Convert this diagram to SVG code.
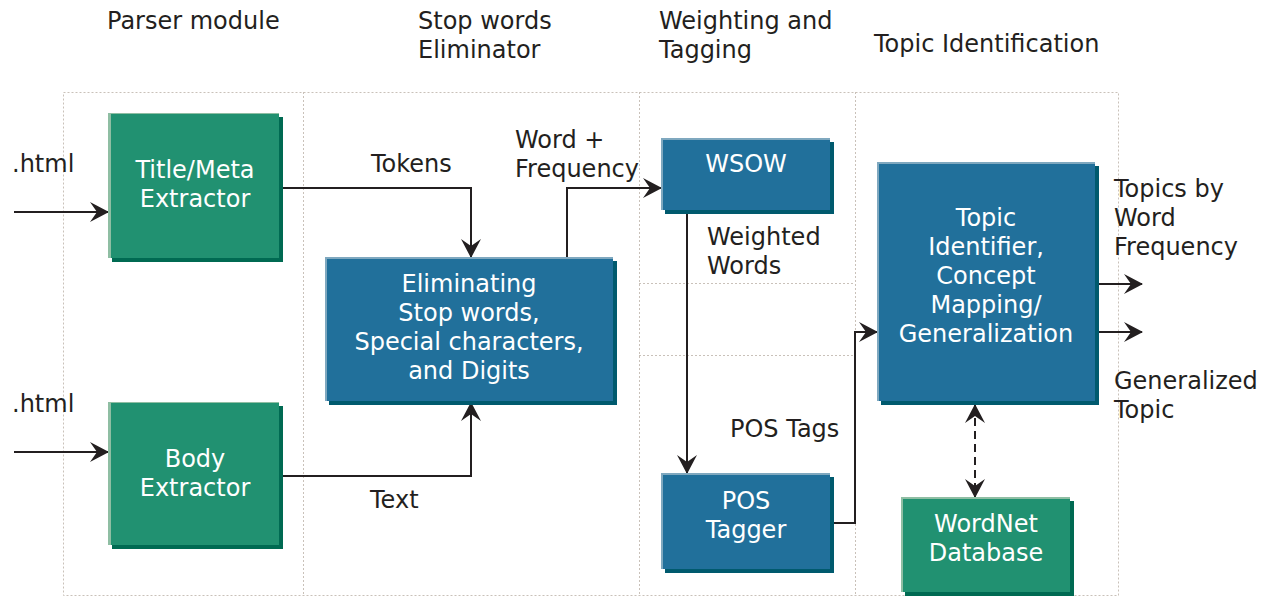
<svg xmlns="http://www.w3.org/2000/svg" width="1269" height="597" viewBox="0 0 1269 597">
<style>
.frame{fill:none;stroke:#c9c1b9;stroke-width:1;stroke-dasharray:2,2}
.lbl{font-family:"DejaVu Sans",Verdana,sans-serif;font-size:24px;fill:#231f20}
.nt{font-family:"DejaVu Sans",Verdana,sans-serif;font-size:24px;fill:#ffffff;text-anchor:middle}
.gs{fill:#006a52}.gh{fill:#8fbea3}.gm{fill:#219171}
.bs{fill:#005a6e}.bh{fill:#7fa8bf}.bm{fill:#21709b}
.con{fill:none;stroke:#231f20;stroke-width:2}
</style>
<defs>
<marker id="ah" markerUnits="userSpaceOnUse" markerWidth="20" markerHeight="22" refX="18" refY="11" orient="auto-start-reverse" viewBox="0 0 20 22">
<path d="M0,1 L19,11 L0,21 L7,11 z" fill="#231f20"/>
</marker>
</defs>
<g id="frames">
<rect class="frame" x="63.5" y="92.5" width="1055" height="503"/>
<line class="frame" x1="303.5" y1="92" x2="303.5" y2="596"/>
<line class="frame" x1="639.5" y1="92" x2="639.5" y2="596"/>
<line class="frame" x1="855.5" y1="92" x2="855.5" y2="596"/>
<line class="frame" x1="639" y1="283.5" x2="855" y2="283.5"/>
<line class="frame" x1="639" y1="355.5" x2="855" y2="355.5"/>
</g>
<g id="headers">
<text class="lbl" x="107" y="29">Parser module</text>
<text class="lbl" x="418" y="29">Stop words</text>
<text class="lbl" x="418" y="58">Eliminator</text>
<text class="lbl" x="659" y="29">Weighting and</text>
<text class="lbl" x="659" y="58">Tagging</text>
<text class="lbl" x="874" y="52">Topic Identification</text>
</g>
<g id="connectors">
<line class="con" x1="14" y1="212" x2="108" y2="212" marker-end="url(#ah)"/>
<line class="con" x1="14" y1="452" x2="108" y2="452" marker-end="url(#ah)"/>
<polyline class="con" points="279,188 471,188 471,257" marker-end="url(#ah)"/>
<polyline class="con" points="279,476 471,476 471,403" marker-end="url(#ah)"/>
<polyline class="con" points="567,257 567,188 661,188" marker-end="url(#ah)"/>
<line class="con" x1="687" y1="212" x2="687" y2="473" marker-end="url(#ah)"/>
<polyline class="con" points="831,523 855,523 855,332 877,332" marker-end="url(#ah)"/>
<line class="con" x1="1095" y1="284" x2="1142" y2="284" marker-end="url(#ah)"/>
<line class="con" x1="1095" y1="332" x2="1142" y2="332" marker-end="url(#ah)"/>
<line class="con" x1="975" y1="405" x2="975" y2="497" stroke-dasharray="8,5" marker-start="url(#ah)" marker-end="url(#ah)"/>
</g>
<g id="labels">
<text class="lbl" x="12" y="172">.html</text>
<text class="lbl" x="12" y="412">.html</text>
<text class="lbl" x="371" y="172">Tokens</text>
<text class="lbl" x="370" y="508">Text</text>
<text class="lbl" x="515" y="148">Word +</text>
<text class="lbl" x="515" y="177">Frequency</text>
<text class="lbl" x="707" y="245">Weighted</text>
<text class="lbl" x="707" y="274">Words</text>
<text class="lbl" x="730" y="437">POS Tags</text>
<text class="lbl" x="1114" y="197">Topics by</text>
<text class="lbl" x="1114" y="226">Word</text>
<text class="lbl" x="1114" y="255">Frequency</text>
<text class="lbl" x="1114" y="389">Generalized</text>
<text class="lbl" x="1114" y="418">Topic</text>
</g>
<g id="title-meta">
<rect class="gs" x="112" y="117" width="171" height="145"/>
<rect class="gh" x="108" y="113" width="171" height="145"/>
<rect class="gm" x="111" y="114" width="168" height="144"/>
<text class="nt" x="195" y="178">Title/Meta</text>
<text class="nt" x="195" y="207">Extractor</text>
</g>
<g id="body-extractor">
<rect class="gs" x="112" y="406" width="171" height="143"/>
<rect class="gh" x="108" y="402" width="171" height="143"/>
<rect class="gm" x="111" y="403" width="168" height="142"/>
<text class="nt" x="195" y="467">Body</text>
<text class="nt" x="195" y="496">Extractor</text>
</g>
<g id="eliminating">
<rect class="bs" x="329" y="261" width="288" height="144"/>
<rect class="bh" x="325" y="257" width="288" height="144"/>
<rect class="bm" x="327" y="259" width="286" height="142"/>
<text class="nt" x="469" y="292">Eliminating</text>
<text class="nt" x="469" y="321">Stop words,</text>
<text class="nt" x="469" y="350">Special characters,</text>
<text class="nt" x="469" y="379">and Digits</text>
</g>
<g id="wsow">
<rect class="bs" x="665" y="142" width="169" height="72"/>
<rect class="bh" x="661" y="138" width="169" height="72"/>
<rect class="bm" x="663" y="140" width="167" height="70"/>
<text class="nt" x="746" y="172">WSOW</text>
</g>
<g id="pos-tagger">
<rect class="bs" x="665" y="477" width="169" height="96"/>
<rect class="bh" x="661" y="473" width="169" height="96"/>
<rect class="bm" x="663" y="475" width="167" height="94"/>
<text class="nt" x="746" y="509">POS</text>
<text class="nt" x="746" y="538">Tagger</text>
</g>
<g id="topic-identifier">
<rect class="bs" x="881" y="166" width="218" height="239"/>
<rect class="bh" x="877" y="162" width="218" height="239"/>
<rect class="bm" x="879" y="164" width="216" height="237"/>
<text class="nt" x="986" y="226">Topic</text>
<text class="nt" x="986" y="255">Identifier,</text>
<text class="nt" x="986" y="284">Concept</text>
<text class="nt" x="986" y="313">Mapping/</text>
<text class="nt" x="986" y="342">Generalization</text>
</g>
<g id="wordnet">
<rect class="gs" x="905" y="501" width="169" height="95"/>
<rect class="gh" x="901" y="497" width="169" height="95"/>
<rect class="gm" x="903" y="499" width="167" height="93"/>
<text class="nt" x="986" y="532">WordNet</text>
<text class="nt" x="986" y="561">Database</text>
</g>
</svg>
